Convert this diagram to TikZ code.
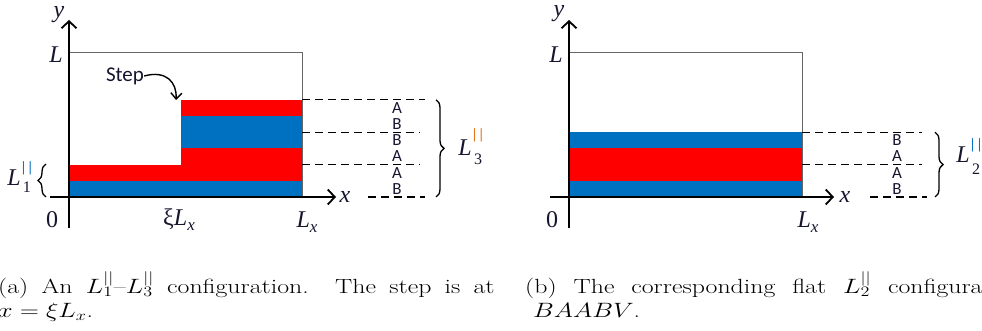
\documentclass[tikz,border=0pt]{standalone}
\usepackage{fontspec}
\usepackage{graphicx}
\newfontfamily\mfont{Liberation Serif}
\newfontfamily\cfont{Carlito}
\usetikzlibrary{arrows.meta,decorations.pathreplacing}
\definecolor{lblue}{HTML}{0070C0}
\definecolor{lred}{HTML}{FF0000}
\definecolor{lorange}{HTML}{E46C0A}
\definecolor{dtext}{HTML}{15152E}
\begin{document}
\begin{tikzpicture}[x=1pt,y=-1pt,
  lab/.style={inner sep=0pt, font=\mfont\itshape\fontsize{24}{24}\selectfont, text=dtext},
  num/.style={inner sep=0pt, font=\mfont\fontsize{24}{24}\selectfont, text=dtext},
  sub/.style={inner sep=0pt, font=\mfont\fontsize{16}{16}\selectfont, text=dtext},
  bars/.style={inner sep=0pt, font=\cfont\fontsize{15}{15}\selectfont},
  ab/.style={inner sep=0pt, font=\cfont\fontsize{17}{17}\selectfont, text=dtext},
  axis/.style={line width=1.8pt, -{Straight Barb[length=7pt,width=15pt]}},
  boxline/.style={draw=black!60, line width=0.9pt},
  dline/.style={line width=1.2pt, dash pattern=on 8pt off 5pt},
  brc/.style={decorate, decoration={brace, amplitude=8pt}, line width=1.3pt},
  capt/.style={inner sep=0pt, anchor=base west, font=\fontsize{20.5}{24}\selectfont}
]
\useasboundingbox (0,0) rectangle (982,331);

% ---------------- left panel ----------------
\draw[boxline] (69,52) rectangle (302,197);
\fill[lblue] (69,180.8) rectangle (302,197);
\fill[lred] (69,164.6) rectangle (181,180.8);
\fill[lred] (181,148.4) rectangle (302,180.8);
\fill[lblue] (181,116) rectangle (302,148.4);
\fill[lred] (181,99.8) rectangle (302,116);

\coordinate (ya0) at (69,228);
\coordinate (ya1) at (69,20);
\coordinate (xa0) at (50,197);
\coordinate (xa1) at (336,197);
\draw[axis] (ya0) -- (ya1);
\draw[axis] (xa0) -- (xa1);

\node[lab] (ylab) at (59,15) {y};
\node[lab] (Llab) at (56,55) {L};
\node[num] (zlab) at (52,220) {0};
\node[lab] (xlab) at (345,197) {x};
\node[lab] (xiL) at (179,220) {{\upshape ξ}L\raisebox{-5pt}{\fontsize{17}{17}\selectfont x}};
\node[lab] (Lx) at (307,222) {L\raisebox{-5pt}{\fontsize{17}{17}\selectfont x}};

\node[ab, font=\cfont\fontsize{21}{21}\selectfont] (step) at (125,76) {Step};
\coordinate (stepend) at (176,100);
\draw[line width=1.4pt, -{Straight Barb[length=6pt,width=11pt]}] (step.east) .. controls (166,70) and (177,82) .. (stepend);

% dashed lines
\coordinate (d1a) at (302,99.8);  \coordinate (d1b) at (425,99.8);
\coordinate (d2a) at (302,132.2); \coordinate (d2b) at (420,132.2);
\coordinate (d3a) at (302,164.6); \coordinate (d3b) at (420,164.6);
\coordinate (d4a) at (368,197);   \coordinate (d4b) at (425,197);
\draw[dline] (d1a) -- (d1b);
\draw[dline] (d2a) -- (d2b);
\draw[dline] (d3a) -- (d3b);
\draw[dline] (d4a) -- (d4b);

\node[ab] (a1) at (397,108) {A};
\node[ab] (a2) at (397,124) {B};
\node[ab] (a3) at (397,140) {B};
\node[ab] (a4) at (397,156) {A};
\node[ab] (a5) at (397,173) {A};
\node[ab] (a6) at (397,189) {B};

\coordinate (br3a) at (436,99.8);
\coordinate (br3b) at (436,197);
\draw[brc] (br3a) -- (br3b);
\node[lab] (L3) at (465,148) {L};
\node[bars, text=lorange] (L3b) at (478,135) {||};
\node[sub] (L3s) at (478,159) {3};

\coordinate (br1a) at (46,197);
\coordinate (br1b) at (46,164);
\draw[brc] (br1a) -- (br1b);
\node[lab] (L1) at (14,178) {L};
\node[bars, text=lblue] (L1b) at (27,168) {||};
\node[sub] (L1s) at (27,187) {1};

% ---------------- right panel ----------------
\draw[boxline] (569,52) rectangle (802,197);
\fill[lblue] (569,180.8) rectangle (802,197);
\fill[lred] (569,148.4) rectangle (802,180.8);
\fill[lblue] (569,132.2) rectangle (802,148.4);

\coordinate (yb0) at (569,228);
\coordinate (yb1) at (569,20);
\coordinate (xb0) at (550,197);
\coordinate (xb1) at (834,197);
\draw[axis] (yb0) -- (yb1);
\draw[axis] (xb0) -- (xb1);

\node[lab] (ylabb) at (559,14) {y};
\node[lab] (Llabb) at (556,55) {L};
\node[num] (zlabb) at (552,220) {0};
\node[lab] (xlabb) at (845,197) {x};
\node[lab] (Lxb) at (808,222) {L\raisebox{-5pt}{\fontsize{17}{17}\selectfont x}};

\coordinate (e1a) at (802,132.2); \coordinate (e1b) at (922,132.2);
\coordinate (e2a) at (802,164.6); \coordinate (e2b) at (922,164.6);
\coordinate (e3a) at (870,197);   \coordinate (e3b) at (927,197);
\draw[dline] (e1a) -- (e1b);
\draw[dline] (e2a) -- (e2b);
\draw[dline] (e3a) -- (e3b);

\node[ab] (b1) at (897,140) {B};
\node[ab] (b2) at (897,156) {A};
\node[ab] (b3) at (897,173) {A};
\node[ab] (b4) at (897,189) {B};

\coordinate (br2a) at (935,132.2);
\coordinate (br2b) at (935,197);
\draw[brc] (br2a) -- (br2b);
\node[lab] (L2) at (963,155) {L};
\node[bars, text=lblue] (L2b) at (976,145) {||};
\node[sub] (L2s) at (976,169) {2};

% ---------------- captions ----------------
\node[capt] (capa1) at (-2,293) {\scalebox{1.26}[1]{\makebox[394pt][s]{(a) An $L_1^{||}$--$L_3^{||}$ configuration.\ \ The step is at}}};
\node[capt] (capa2) at (-2,317) {\scalebox{1.26}[1]{$x=\xi L_x$.}};
\node[capt] (capb1) at (525,293) {\scalebox{1.26}[1]{\makebox[363pt][s]{(b) The corresponding flat $L_2^{||}$ configura}}};
\node[capt] (capb2) at (533,317) {\scalebox{1.26}[1]{$BAABV$.}};
\end{tikzpicture}
\end{document}
